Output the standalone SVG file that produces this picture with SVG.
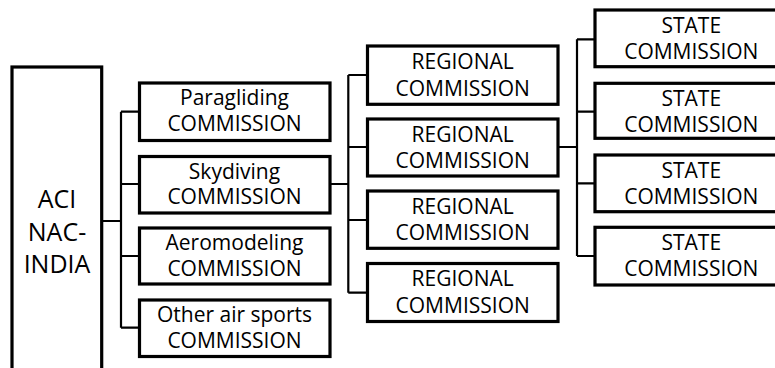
<svg xmlns="http://www.w3.org/2000/svg" width="775" height="368" viewBox="0 0 775 368">
<style>
.box{fill:#fff;stroke:#000;stroke-width:3.2}
.t{font-family:"Open Sans","Liberation Sans",sans-serif;font-size:21px;fill:#000;text-anchor:middle}
.big{font-size:25px}
.c{fill:none;stroke:#000;stroke-width:2.2}
</style>
<rect width="775" height="368" fill="#fff"/>
<g id="connectors">
<path class="c" d="M101.7 221H121M121 111.7V327.7M121 111.7H139M121 184H139M121 256H139M121 327.7H139"/>
<path class="c" d="M330 184H348.3M348.3 75V292.7M348.3 75H367M348.3 147H367M348.3 220H367M348.3 292.7H367"/>
<path class="c" d="M558 147H577M577 39.3V256M577 39.3H595M577 111.7H595M577 183.3H595M577 256H595"/>
</g>
<g id="aci">
<rect class="box" x="12" y="67" width="89.7" height="320"/>
<text class="t big" x="57" y="208">ACI</text>
<text class="t big" x="57" y="241">NAC-</text>
<text class="t big" x="57" y="273">INDIA</text>
</g>
<g id="paragliding">
<rect class="box" x="139.5" y="83" width="190.5" height="57.5"/>
<text class="t" x="234.5" y="105">Paragliding</text>
<text class="t" x="234.5" y="130.5">COMMISSION</text>
</g>
<g id="skydiving">
<rect class="box" x="139.5" y="156.5" width="190.5" height="56.5"/>
<text class="t" x="234.5" y="178.5">Skydiving</text>
<text class="t" x="234.5" y="204">COMMISSION</text>
</g>
<g id="aeromodeling">
<rect class="box" x="139.5" y="228" width="190.5" height="56"/>
<text class="t" x="234.5" y="250">Aeromodeling</text>
<text class="t" x="234.5" y="275.5">COMMISSION</text>
</g>
<g id="other">
<rect class="box" x="139.5" y="300" width="190.5" height="56.5"/>
<text class="t" x="234.5" y="322">Other air sports</text>
<text class="t" x="234.5" y="347.5">COMMISSION</text>
</g>
<g id="regional1">
<rect class="box" x="367.5" y="46" width="190.5" height="58.3"/>
<text class="t" x="462.7" y="69">REGIONAL</text>
<text class="t" x="462.7" y="95.5">COMMISSION</text>
</g>
<g id="regional2">
<rect class="box" x="367.5" y="119" width="190.5" height="57"/>
<text class="t" x="462.7" y="141.5">REGIONAL</text>
<text class="t" x="462.7" y="167.5">COMMISSION</text>
</g>
<g id="regional3">
<rect class="box" x="367.5" y="191" width="190.5" height="57.3"/>
<text class="t" x="462.7" y="213.5">REGIONAL</text>
<text class="t" x="462.7" y="240">COMMISSION</text>
</g>
<g id="regional4">
<rect class="box" x="367.5" y="263.5" width="190.5" height="58"/>
<text class="t" x="462.7" y="286">REGIONAL</text>
<text class="t" x="462.7" y="312.5">COMMISSION</text>
</g>
<g id="state1">
<rect class="box" x="595" y="10" width="192" height="56.7"/>
<text class="t" x="691.3" y="33">STATE</text>
<text class="t" x="691.3" y="59">COMMISSION</text>
</g>
<g id="state2">
<rect class="box" x="595" y="83.3" width="192" height="55"/>
<text class="t" x="691.3" y="106">STATE</text>
<text class="t" x="691.3" y="131.5">COMMISSION</text>
</g>
<g id="state3">
<rect class="box" x="595" y="155" width="192" height="56.7"/>
<text class="t" x="691.3" y="178">STATE</text>
<text class="t" x="691.3" y="204">COMMISSION</text>
</g>
<g id="state4">
<rect class="box" x="595" y="227.3" width="192" height="57.7"/>
<text class="t" x="691.3" y="250">STATE</text>
<text class="t" x="691.3" y="276">COMMISSION</text>
</g>
</svg>
